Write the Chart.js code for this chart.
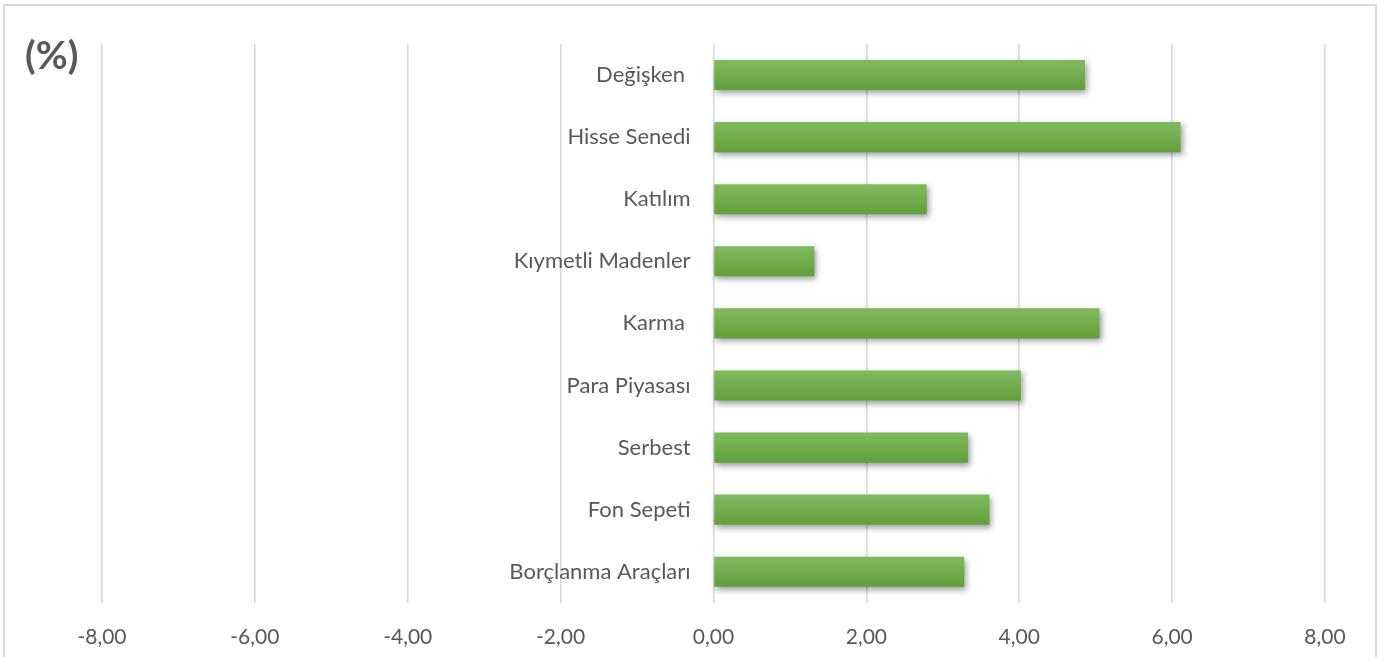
<!DOCTYPE html>
<html>
<head>
<meta charset="utf-8">
<script src="https://cdn.jsdelivr.net/npm/chart.js@4/dist/chart.umd.min.js"></script>
<style>
  html, body { margin: 0; padding: 0; background: #fff; }
  #wrap { position: relative; width: 1387px; height: 657px; }
  #frame { position: absolute; left: 3px; top: 4px; width: 1374px; height: 660px;
    border: 2px solid #d9d9d9; box-sizing: border-box; }
  #unit { position: absolute; left: 25px; top: 31px; font: bold 39px Lato, sans-serif; color: #595959; }
  canvas { position: absolute; left: 0; top: 0; }
</style>
</head>
<body>
<div id="wrap">
  <div id="frame"></div>
  <canvas id="chart_out" width="1387" height="657"></canvas>
  <div id="unit">(%)</div>
</div>
<script>
/* jshint esversion:6*/
const fund_types = ['Değişken ', 'Hisse Senedi', 'Katılım', 'Kıymetli Madenler', 'Karma ',
  'Para Piyasası', 'Serbest', 'Fon Sepeti', 'Borçlanma Araçları'];
const fund_returns = [4.86, 6.11, 2.79, 1.32, 5.05, 4.02, 3.33, 3.61, 3.28];
const x_min = -8, x_max = 8, x_step = 2;

// bar fill: light-to-dark green per bar
const _f_bar_fill = function (ctx) {
  let el = ctx.chart.getDatasetMeta(0).data[ctx.dataIndex];
  if (!el || el.y === undefined || isNaN(el.y)) return '#70ad47';
  let g = ctx.chart.ctx.createLinearGradient(0, el.y - el.height / 2, 0, el.y + el.height / 2);
  g.addColorStop(0, '#80ba5f');
  g.addColorStop(1, '#61a03a');
  return g;
};

const shadow_plugin = {
  id: 'bar_shadow',
  beforeDatasetsDraw(chart) {
    let c = chart.ctx;
    c.save();
    c.shadowColor = 'rgba(0,0,0,0.38)';
    c.shadowBlur = 6;
    c.shadowOffsetX = 2;
    c.shadowOffsetY = 3;
  },
  afterDatasetsDraw(chart) {
    chart.ctx.restore();
  }
};

let ctx = document.getElementById('chart_out').getContext('2d');
let chartjs = new Chart(ctx, {
  type: 'bar',
  data: {
    labels: fund_types,
    datasets: [{
      data: fund_returns,
      backgroundColor: _f_bar_fill,
      borderWidth: 0,
      barPercentage: 0.485,
      categoryPercentage: 1
    }]
  },
  plugins: [shadow_plugin],
  options: {
    indexAxis: 'y',
    responsive: false,
    animation: false,
    layout: { padding: { left: 102, right: 62, top: 44, bottom: -15 } },
    scales: {
      x: {
        min: x_min,
        max: x_max,
        ticks: {
          stepSize: x_step,
          padding: 22,
          color: '#595959',
          font: { family: 'Lato', size: 21 },
          callback: v => v.toFixed(2).replace('.', ',')
        },
        grid: { color: '#d9d9d9', lineWidth: 1.6, drawTicks: false },
        border: { display: false }
      },
      y: {
        // labels sit just left of the zero line
        position: { x: -0.3 },
        ticks: {
          padding: 0,
          color: '#595959',
          font: { family: 'Lato', size: 22 }
        },
        grid: { display: false, drawTicks: false },
        border: { display: false }
      }
    },
    plugins: {
      legend: { display: false },
      tooltip: { enabled: false }
    }
  }
});
chartjs.update('none');
</script>
</body>
</html>
